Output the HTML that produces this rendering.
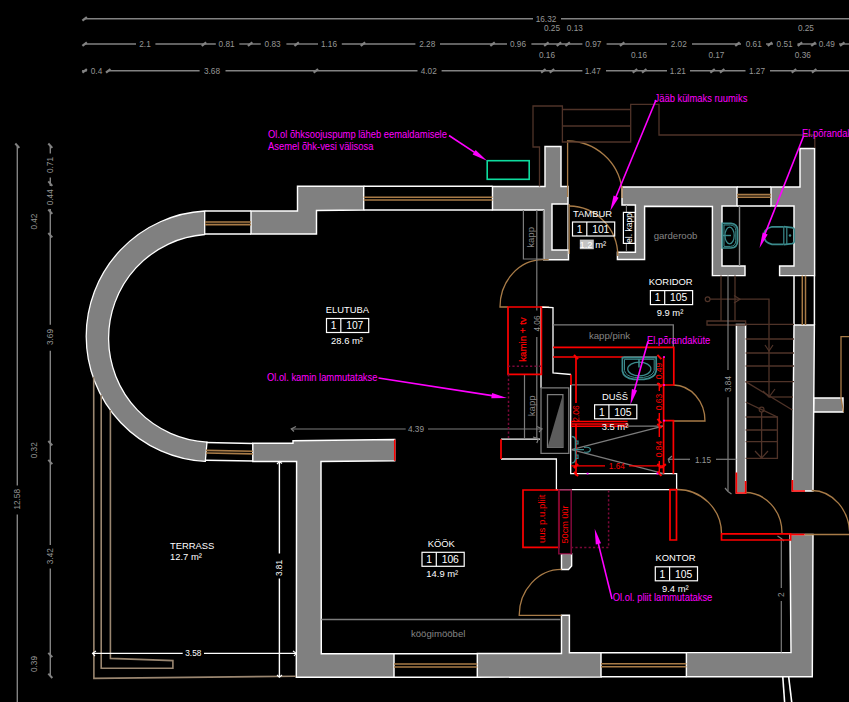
<!DOCTYPE html>
<html><head><meta charset="utf-8"><title>Plaan</title>
<style>
html,body{margin:0;padding:0;background:#000;overflow:hidden}
svg{display:block;font-family:"Liberation Sans",sans-serif}
</style></head><body>
<svg width="849" height="702" viewBox="0 0 849 702">
<rect width="849" height="702" fill="#000"/>
<line x1="84.7" y1="18.8" x2="533" y2="18.8" stroke="#828282" stroke-width="1.4" />
<line x1="561" y1="18.8" x2="849" y2="18.8" stroke="#828282" stroke-width="1.4" />
<path d="M82.4,20.7 L86.9,17.1" stroke="#828282" stroke-width="2.2" fill="none"/>
<text x="0" y="0" fill="#969696" font-size="8.7" text-anchor="middle" dominant-baseline="central" transform="translate(546 19.1) scale(0.95 1)" >16.32</text>
<line x1="84.7" y1="44" x2="136" y2="44" stroke="#828282" stroke-width="1.4" />
<line x1="155.4" y1="44" x2="215.8" y2="44" stroke="#828282" stroke-width="1.4" />
<line x1="239.3" y1="44" x2="260.8" y2="44" stroke="#828282" stroke-width="1.4" />
<line x1="286.4" y1="44" x2="318" y2="44" stroke="#828282" stroke-width="1.4" />
<line x1="341.8" y1="44" x2="415.4" y2="44" stroke="#828282" stroke-width="1.4" />
<line x1="440" y1="44" x2="507" y2="44" stroke="#828282" stroke-width="1.4" />
<line x1="531.4" y1="44" x2="582.4" y2="44" stroke="#828282" stroke-width="1.4" />
<line x1="606.6" y1="44" x2="667" y2="44" stroke="#828282" stroke-width="1.4" />
<line x1="692" y1="44" x2="741" y2="44" stroke="#828282" stroke-width="1.4" />
<line x1="766" y1="44" x2="773" y2="44" stroke="#828282" stroke-width="1.4" />
<line x1="797.5" y1="44" x2="816.5" y2="44" stroke="#828282" stroke-width="1.4" />
<line x1="839" y1="44" x2="849" y2="44" stroke="#828282" stroke-width="1.4" />
<path d="M82.4,45.9 L86.9,42.3" stroke="#828282" stroke-width="2.2" fill="none"/>
<path d="M201.7,45.9 L206.2,42.3" stroke="#828282" stroke-width="2.2" fill="none"/>
<path d="M247.89999999999998,45.9 L252.39999999999998,42.3" stroke="#828282" stroke-width="2.2" fill="none"/>
<path d="M294.4,45.9 L298.9,42.3" stroke="#828282" stroke-width="2.2" fill="none"/>
<path d="M360.7,45.9 L365.2,42.3" stroke="#828282" stroke-width="2.2" fill="none"/>
<path d="M490.3,45.9 L494.8,42.3" stroke="#828282" stroke-width="2.2" fill="none"/>
<path d="M544.1,45.9 L548.6,42.3" stroke="#828282" stroke-width="2.2" fill="none"/>
<path d="M556.7,45.9 L561.2,42.3" stroke="#828282" stroke-width="2.2" fill="none"/>
<path d="M565.4000000000001,45.9 L569.9000000000001,42.3" stroke="#828282" stroke-width="2.2" fill="none"/>
<path d="M619.9000000000001,45.9 L624.4000000000001,42.3" stroke="#828282" stroke-width="2.2" fill="none"/>
<path d="M735.2,45.9 L739.7,42.3" stroke="#828282" stroke-width="2.2" fill="none"/>
<path d="M767.7,45.9 L772.2,42.3" stroke="#828282" stroke-width="2.2" fill="none"/>
<path d="M797.7,45.9 L802.2,42.3" stroke="#828282" stroke-width="2.2" fill="none"/>
<path d="M811.2,45.9 L815.7,42.3" stroke="#828282" stroke-width="2.2" fill="none"/>
<path d="M840.0,45.9 L844.5,42.3" stroke="#828282" stroke-width="2.2" fill="none"/>
<text x="0" y="0" fill="#969696" font-size="8.7" text-anchor="middle" dominant-baseline="central" transform="translate(145 44.3) scale(0.95 1)" >2.1</text>
<text x="0" y="0" fill="#969696" font-size="8.7" text-anchor="middle" dominant-baseline="central" transform="translate(226.6 44.3) scale(0.95 1)" >0.81</text>
<text x="0" y="0" fill="#969696" font-size="8.7" text-anchor="middle" dominant-baseline="central" transform="translate(272.6 44.3) scale(0.95 1)" >0.83</text>
<text x="0" y="0" fill="#969696" font-size="8.7" text-anchor="middle" dominant-baseline="central" transform="translate(329 44.3) scale(0.95 1)" >1.16</text>
<text x="0" y="0" fill="#969696" font-size="8.7" text-anchor="middle" dominant-baseline="central" transform="translate(427.2 44.3) scale(0.95 1)" >2.28</text>
<text x="0" y="0" fill="#969696" font-size="8.7" text-anchor="middle" dominant-baseline="central" transform="translate(518 44.3) scale(0.95 1)" >0.96</text>
<text x="0" y="0" fill="#969696" font-size="8.7" text-anchor="middle" dominant-baseline="central" transform="translate(593.3 44.3) scale(0.95 1)" >0.97</text>
<text x="0" y="0" fill="#969696" font-size="8.7" text-anchor="middle" dominant-baseline="central" transform="translate(678.7 44.3) scale(0.95 1)" >2.02</text>
<text x="0" y="0" fill="#969696" font-size="8.7" text-anchor="middle" dominant-baseline="central" transform="translate(753.7 44.3) scale(0.95 1)" >0.61</text>
<text x="0" y="0" fill="#969696" font-size="8.7" text-anchor="middle" dominant-baseline="central" transform="translate(784.6 44.3) scale(0.95 1)" >0.51</text>
<text x="0" y="0" fill="#969696" font-size="8.7" text-anchor="middle" dominant-baseline="central" transform="translate(826.8 44.3) scale(0.95 1)" >0.49</text>
<text x="0" y="0" fill="#969696" font-size="8.7" text-anchor="middle" dominant-baseline="central" transform="translate(552 27.9) scale(0.95 1)" >0.25</text>
<text x="0" y="0" fill="#969696" font-size="8.7" text-anchor="middle" dominant-baseline="central" transform="translate(574.8 27.9) scale(0.95 1)" >0.13</text>
<text x="0" y="0" fill="#969696" font-size="8.7" text-anchor="middle" dominant-baseline="central" transform="translate(805.9 27.9) scale(0.95 1)" >0.25</text>
<text x="0" y="0" fill="#969696" font-size="8.7" text-anchor="middle" dominant-baseline="central" transform="translate(547 55.3) scale(0.95 1)" >0.16</text>
<text x="0" y="0" fill="#969696" font-size="8.7" text-anchor="middle" dominant-baseline="central" transform="translate(639 55.3) scale(0.95 1)" >0.16</text>
<text x="0" y="0" fill="#969696" font-size="8.7" text-anchor="middle" dominant-baseline="central" transform="translate(716.4 55.3) scale(0.95 1)" >0.17</text>
<text x="0" y="0" fill="#969696" font-size="8.7" text-anchor="middle" dominant-baseline="central" transform="translate(802.8 55.3) scale(0.95 1)" >0.36</text>
<line x1="82" y1="70.8" x2="87" y2="70.8" stroke="#828282" stroke-width="1.4" />
<line x1="108.3" y1="70.8" x2="199.6" y2="70.8" stroke="#828282" stroke-width="1.4" />
<line x1="225.5" y1="70.8" x2="417.5" y2="70.8" stroke="#828282" stroke-width="1.4" />
<line x1="441.6" y1="70.8" x2="582.4" y2="70.8" stroke="#828282" stroke-width="1.4" />
<line x1="606" y1="70.8" x2="667" y2="70.8" stroke="#828282" stroke-width="1.4" />
<line x1="690" y1="70.8" x2="745.5" y2="70.8" stroke="#828282" stroke-width="1.4" />
<line x1="770" y1="70.8" x2="849" y2="70.8" stroke="#828282" stroke-width="1.4" />
<path d="M82.4,72.7 L86.9,69.1" stroke="#828282" stroke-width="2.2" fill="none"/>
<path d="M106.0,72.7 L110.5,69.1" stroke="#828282" stroke-width="2.2" fill="none"/>
<path d="M313.59999999999997,72.7 L318.09999999999997,69.1" stroke="#828282" stroke-width="2.2" fill="none"/>
<path d="M541.1,72.7 L545.6,69.1" stroke="#828282" stroke-width="2.2" fill="none"/>
<path d="M549.7,72.7 L554.2,69.1" stroke="#828282" stroke-width="2.2" fill="none"/>
<path d="M632.7,72.7 L637.2,69.1" stroke="#828282" stroke-width="2.2" fill="none"/>
<path d="M642.0,72.7 L646.5,69.1" stroke="#828282" stroke-width="2.2" fill="none"/>
<path d="M710.3000000000001,72.7 L714.8000000000001,69.1" stroke="#828282" stroke-width="2.2" fill="none"/>
<path d="M719.9000000000001,72.7 L724.4000000000001,69.1" stroke="#828282" stroke-width="2.2" fill="none"/>
<path d="M791.7,72.7 L796.2,69.1" stroke="#828282" stroke-width="2.2" fill="none"/>
<path d="M811.9000000000001,72.7 L816.4000000000001,69.1" stroke="#828282" stroke-width="2.2" fill="none"/>
<text x="0" y="0" fill="#969696" font-size="8.7" text-anchor="middle" dominant-baseline="central" transform="translate(96.5 71.1) scale(0.95 1)" >0.4</text>
<text x="0" y="0" fill="#969696" font-size="8.7" text-anchor="middle" dominant-baseline="central" transform="translate(212 71.1) scale(0.95 1)" >3.68</text>
<text x="0" y="0" fill="#969696" font-size="8.7" text-anchor="middle" dominant-baseline="central" transform="translate(428.7 71.1) scale(0.95 1)" >4.02</text>
<text x="0" y="0" fill="#969696" font-size="8.7" text-anchor="middle" dominant-baseline="central" transform="translate(592.7 71.1) scale(0.95 1)" >1.47</text>
<text x="0" y="0" fill="#969696" font-size="8.7" text-anchor="middle" dominant-baseline="central" transform="translate(677.8 71.1) scale(0.95 1)" >1.21</text>
<text x="0" y="0" fill="#969696" font-size="8.7" text-anchor="middle" dominant-baseline="central" transform="translate(757 71.1) scale(0.95 1)" >1.27</text>
<line x1="17.3" y1="145.7" x2="17.3" y2="485.6" stroke="#828282" stroke-width="1.4" />
<line x1="17.3" y1="514.6" x2="17.3" y2="702" stroke="#828282" stroke-width="1.4" />
<path d="M15.3,143.5 L19.3,147.89999999999998" stroke="#828282" stroke-width="2.0" fill="none"/>
<text x="0" y="0" fill="#969696" font-size="8.7" text-anchor="middle" dominant-baseline="central" transform="translate(17.3 499.3) rotate(-90) scale(0.95 1)" >12.58</text>
<line x1="50.3" y1="145.7" x2="50.3" y2="153.5" stroke="#828282" stroke-width="1.4" />
<line x1="50.3" y1="177.5" x2="50.3" y2="186" stroke="#828282" stroke-width="1.4" />
<line x1="50.3" y1="209" x2="50.3" y2="324.8" stroke="#828282" stroke-width="1.4" />
<line x1="50.3" y1="350.8" x2="50.3" y2="545" stroke="#828282" stroke-width="1.4" />
<line x1="50.3" y1="568.6" x2="50.3" y2="675.8" stroke="#828282" stroke-width="1.4" />
<path d="M48.3,143.5 L52.3,147.89999999999998" stroke="#828282" stroke-width="2.0" fill="none"/>
<path d="M48.3,181.4 L52.3,185.79999999999998" stroke="#828282" stroke-width="2.0" fill="none"/>
<path d="M48.3,209.5 L52.3,213.89999999999998" stroke="#828282" stroke-width="2.0" fill="none"/>
<path d="M48.3,233.0 L52.3,237.39999999999998" stroke="#828282" stroke-width="2.0" fill="none"/>
<path d="M48.3,441.0 L52.3,445.4" stroke="#828282" stroke-width="2.0" fill="none"/>
<path d="M48.3,459.8 L52.3,464.2" stroke="#828282" stroke-width="2.0" fill="none"/>
<path d="M48.3,652.8 L52.3,657.2" stroke="#828282" stroke-width="2.0" fill="none"/>
<path d="M48.3,673.5999999999999 L52.3,678.0" stroke="#828282" stroke-width="2.0" fill="none"/>
<text x="0" y="0" fill="#969696" font-size="8.7" text-anchor="middle" dominant-baseline="central" transform="translate(50.3 165) rotate(-90) scale(0.95 1)" >0.71</text>
<text x="0" y="0" fill="#969696" font-size="8.7" text-anchor="middle" dominant-baseline="central" transform="translate(50.3 197.3) rotate(-90) scale(0.95 1)" >0.44</text>
<text x="0" y="0" fill="#969696" font-size="8.7" text-anchor="middle" dominant-baseline="central" transform="translate(50.3 337) rotate(-90) scale(0.95 1)" >3.69</text>
<text x="0" y="0" fill="#969696" font-size="8.7" text-anchor="middle" dominant-baseline="central" transform="translate(50.3 556.2) rotate(-90) scale(0.95 1)" >3.42</text>
<text x="0" y="0" fill="#969696" font-size="8.7" text-anchor="middle" dominant-baseline="central" transform="translate(34.0 221.6) rotate(-90) scale(0.95 1)" >0.42</text>
<text x="0" y="0" fill="#969696" font-size="8.7" text-anchor="middle" dominant-baseline="central" transform="translate(34.0 450.3) rotate(-90) scale(0.95 1)" >0.32</text>
<text x="0" y="0" fill="#969696" font-size="8.7" text-anchor="middle" dominant-baseline="central" transform="translate(34.0 664) rotate(-90) scale(0.95 1)" >0.39</text>
<path d="M204.7,210.99 A125.4,125.4 0 0 0 205.3,461.44 L207.0,442.05 A104.0,104.0 0 0 1 204.7,234.50 Z" fill="#808080" stroke="#ffffff" stroke-width="1.3"/>
<path d="M251,211 L297.5,211 L297.5,186.3 L363.7,186.3 L363.7,210 L316.5,210.5 L316.5,234 L251,234Z" fill="#808080" stroke="#ffffff" stroke-width="1.45" stroke-linejoin="miter" />
<path d="M492.5,186.5 L545,186.5 L545,146.5 L561,146.5 L561,186.5 L568,186.5 L568,204 L552,204 L552,250 L568.5,250 L568.5,259.7 L543.7,259.7 L543.7,210 L492.5,210Z" fill="#808080" stroke="#ffffff" stroke-width="1.45" stroke-linejoin="miter" />
<path d="M622,187 L737,187 L737,206 L722,206 L722,266 L745,266 L745,275.6 L712.4,275.6 L712.4,206.5 L644.6,206.3 L644.6,259.4 L617.4,259.4 L617.4,252.3 L635.4,252.3 L635.4,205 L622,205Z" fill="#808080" stroke="#ffffff" stroke-width="1.45" stroke-linejoin="miter" />
<path d="M771,187 L800,187 L800,148.5 L814.6,148.5 L814.6,275.6 L779.6,275.6 L779.6,266 L794,266 L794,206 L771,206Z" fill="#808080" stroke="#ffffff" stroke-width="1.45" stroke-linejoin="miter" />
<path d="M794,325 L814.4,325 L813,491 L792.4,491Z" fill="#808080" stroke="#ffffff" stroke-width="1.45" stroke-linejoin="miter" />
<path d="M814,398 L843,398 L843,412 L813.8,412Z" fill="#808080" stroke="#ffffff" stroke-width="1.45" stroke-linejoin="miter" />
<path d="M736.4,324.4 L745.6,324.4 L745.6,493 L736.4,493Z" fill="#808080" stroke="#ffffff" stroke-width="1.45" stroke-linejoin="miter" />
<path d="M790,534.5 L813,534.5 L812.3,676.8 L686.4,676.8 L686.4,652.6 L791,652.6Z" fill="#808080" stroke="#ffffff" stroke-width="1.45" stroke-linejoin="miter" />
<path d="M477.3,653.5 L561.5,653.5 L561.5,615.3 L569.4,615.3 L569.4,652.8 L601,652.8 L601,677 L477.3,677.2Z" fill="#808080" stroke="#ffffff" stroke-width="1.45" stroke-linejoin="miter" />
<path d="M252.8,443.3 L293,443.3 L293,440.7 L394.7,439.6 L394.7,460.8 L321,461.5 L321.3,653.7 L394,653.7 L394,677.3 L296.3,677.3 L296.6,461.5 L252.8,461.5Z" fill="#808080" stroke="#ffffff" stroke-width="1.45" stroke-linejoin="miter" />
<path d="M561.5,553.8 L571.6,553.8 L571.6,566 L568.5,569.4 L561.5,569.4Z" fill="#808080" stroke="#ffffff" stroke-width="1.45" stroke-linejoin="miter" />
<line x1="205" y1="211" x2="251" y2="211" stroke="#ffffff" stroke-width="1.5" />
<line x1="205" y1="234" x2="251" y2="234" stroke="#ffffff" stroke-width="1.5" />
<line x1="205" y1="222" x2="251" y2="222" stroke="#a87b47" stroke-width="1.6" />
<line x1="205" y1="224.6" x2="251" y2="224.6" stroke="#a87b47" stroke-width="1.6" />
<line x1="363.7" y1="186.3" x2="492.5" y2="186.3" stroke="#ffffff" stroke-width="1.5" />
<line x1="363.7" y1="210" x2="492.5" y2="210" stroke="#ffffff" stroke-width="1.5" />
<line x1="363.7" y1="197.3" x2="492.5" y2="197.3" stroke="#a87b47" stroke-width="1.6" />
<line x1="363.7" y1="200" x2="492.5" y2="200" stroke="#a87b47" stroke-width="1.6" />
<line x1="206" y1="442.5" x2="252.8" y2="443.4" stroke="#ffffff" stroke-width="1.5" />
<line x1="206" y1="460.2" x2="252.8" y2="461.09999999999997" stroke="#ffffff" stroke-width="1.5" />
<line x1="206" y1="450.4" x2="252.8" y2="451.29999999999995" stroke="#a87b47" stroke-width="1.6" />
<line x1="206" y1="453" x2="252.8" y2="453.9" stroke="#a87b47" stroke-width="1.6" />
<line x1="394" y1="653.7" x2="477.3" y2="653.7" stroke="#ffffff" stroke-width="1.5" />
<line x1="394" y1="677.3" x2="477.3" y2="677.3" stroke="#ffffff" stroke-width="1.5" />
<line x1="394" y1="664" x2="477.3" y2="664" stroke="#a87b47" stroke-width="1.6" />
<line x1="394" y1="667" x2="477.3" y2="667" stroke="#a87b47" stroke-width="1.6" />
<line x1="601" y1="652.8" x2="686.4" y2="652.8" stroke="#ffffff" stroke-width="1.5" />
<line x1="601" y1="676.8" x2="686.4" y2="676.8" stroke="#ffffff" stroke-width="1.5" />
<line x1="601" y1="663.8" x2="686.4" y2="663.8" stroke="#a87b47" stroke-width="1.6" />
<line x1="601" y1="666.8" x2="686.4" y2="666.8" stroke="#a87b47" stroke-width="1.6" />
<line x1="737" y1="187" x2="771" y2="187" stroke="#ffffff" stroke-width="1.5" />
<line x1="737" y1="206" x2="771" y2="206" stroke="#ffffff" stroke-width="1.5" />
<line x1="737" y1="194.6" x2="771" y2="194.6" stroke="#a87b47" stroke-width="1.6" />
<line x1="737" y1="197.2" x2="771" y2="197.2" stroke="#a87b47" stroke-width="1.6" />
<line x1="794" y1="275.6" x2="794" y2="325" stroke="#ffffff" stroke-width="1.5" />
<line x1="814.4" y1="275.6" x2="814.4" y2="325" stroke="#ffffff" stroke-width="1.5" />
<line x1="802.3" y1="275.6" x2="802.3" y2="325" stroke="#a87b47" stroke-width="1.5" />
<line x1="805.5" y1="275.6" x2="805.5" y2="325" stroke="#a87b47" stroke-width="1.5" />
<path d="M567.6,197 L567.6,141 A55,55 0 0 1 622,189" fill="none" stroke="#a87b47" stroke-width="1.3"/>
<path d="M622,186 L622,198" fill="none" stroke="#a87b47" stroke-width="1.3"/>
<line x1="567.9" y1="204" x2="567.9" y2="250" stroke="#ffffff" stroke-width="1.1" />
<path d="M569.2,204 L569.2,254" fill="none" stroke="#a87b47" stroke-width="1.2"/>
<path d="M569,206 A49,50 0 0 1 617.8,256 L617.8,251" fill="none" stroke="#a87b47" stroke-width="1.3"/>
<path d="M548.7,259.7 L542.8,259.7 A43,47.3 0 0 0 500,307 L508,307" fill="none" stroke="#a87b47" stroke-width="1.3"/>
<path d="M541.8,307 L549,307" fill="none" stroke="#a87b47" stroke-width="1.3"/>
<path d="M673.5,385 A32,36 0 0 1 705,421 L673,421" fill="none" stroke="#a87b47" stroke-width="1.3"/>
<path d="M677,489.5 A44.5,44 0 0 1 721.5,533.5" fill="none" stroke="#a87b47" stroke-width="1.3"/>
<path d="M745,492.5 A37,40.5 0 0 1 782,533" fill="none" stroke="#a87b47" stroke-width="1.3"/>
<path d="M811.7,490.5 A38,44 0 0 1 849.7,534.5" fill="none" stroke="#a87b47" stroke-width="1.3"/>
<path d="M805,534.5 L849,534.5" fill="none" stroke="#a87b47" stroke-width="1.3"/>
<path d="M561.5,569.4 A42.3,46 0 0 0 519.2,615.3 L561.5,615.3" fill="none" stroke="#a87b47" stroke-width="1.3"/>
<path d="M849,336.6 L841,336.6 L841,398 L843.5,412" fill="none" stroke="#a87b47" stroke-width="1.3"/>
<path d="M93.7,376.7 L93.9,678.4 L296,676.2" fill="none" stroke="#9a8670" stroke-width="1.6" />
<path d="M101.2,394.7 L101.2,668.3 L172.9,668.3 L172.9,660.6 L110.4,658.4 L110.4,410" fill="none" stroke="#9a8670" stroke-width="1.6" />
<path d="M539.5,186.5 L539.5,147 L533,147 L533,106 L562.4,106 L562.4,142 L630.7,142 L630.7,104.4 L659,104.4 L659,135 L814.8,135 L814.8,148" fill="none" stroke="#4f3328" stroke-width="1.3" />
<line x1="562.4" y1="109.5" x2="630.7" y2="109.5" stroke="#4f3328" stroke-width="1.3" />
<line x1="562.4" y1="126" x2="630.7" y2="126" stroke="#4f3328" stroke-width="1.3" />
<line x1="721" y1="275.6" x2="721" y2="321" stroke="#4f3328" stroke-width="1.3" />
<line x1="735" y1="275.6" x2="735" y2="321" stroke="#4f3328" stroke-width="1.3" />
<path d="M707,321 L745.6,321 L745.6,325 L707,325Z" fill="none" stroke="#4f3328" stroke-width="1.3" />
<line x1="745.6" y1="324.4" x2="794" y2="324.4" stroke="#4f3328" stroke-width="1.3" />
<circle cx="707.6" cy="299.2" r="2.4" fill="none" stroke="#4f3328" stroke-width="1.2"/>
<path d="M710,299.2 L769,299.2 L769,397" fill="none" stroke="#4f3328" stroke-width="1.3" />
<path d="M734,295.5 L740,299.2 L734,303" fill="none" stroke="#4f3328" stroke-width="1.2" />
<path d="M765,345 L769,351 L773,345" fill="none" stroke="#4f3328" stroke-width="1.2" />
<line x1="745.6" y1="339" x2="794" y2="339" stroke="#4f3328" stroke-width="1.3" />
<line x1="745.6" y1="353" x2="794" y2="353" stroke="#4f3328" stroke-width="1.3" />
<line x1="745.6" y1="366" x2="794" y2="366" stroke="#4f3328" stroke-width="1.3" />
<line x1="745.6" y1="381.6" x2="794" y2="381.6" stroke="#4f3328" stroke-width="1.3" />
<line x1="769" y1="397" x2="793" y2="397" stroke="#4f3328" stroke-width="1.3" />
<path d="M763,391 L769,397 L775,389" fill="none" stroke="#4f3328" stroke-width="1.2" />
<line x1="745.6" y1="381.6" x2="792.4" y2="410" stroke="#4f3328" stroke-width="1.3" />
<line x1="745.6" y1="402" x2="777.4" y2="417" stroke="#4f3328" stroke-width="1.3" />
<path d="M745.6,417 L777.4,417 L777.4,458.4 L745.6,458.4" fill="none" stroke="#4f3328" stroke-width="1.3" />
<line x1="745.6" y1="430" x2="777.4" y2="430" stroke="#4f3328" stroke-width="1.3" />
<line x1="745.6" y1="441.6" x2="777.4" y2="441.6" stroke="#4f3328" stroke-width="1.3" />
<circle cx="761.6" cy="409.6" r="2.4" fill="none" stroke="#4f3328" stroke-width="1.2"/>
<line x1="761.6" y1="412" x2="761.6" y2="458" stroke="#4f3328" stroke-width="1.3" />
<path d="M755,451 L761.6,458 L768,451" fill="none" stroke="#4f3328" stroke-width="1.2" />
<path d="M541,388 L541,307 L553,307.5 L553,373 L571,374.5" fill="none" stroke="#ffffff" stroke-width="1.3" />
<path d="M570.7,384.7 L570.7,473.7 L676.6,473.7 L676.6,489.7 L556.4,489.7 L556.4,459 L501,459" fill="none" stroke="#ffffff" stroke-width="1.3" />
<line x1="501" y1="439.2" x2="540" y2="439.2" stroke="#ffffff" stroke-width="1.3" />
<path d="M523.4,210 L523.4,259 L543.4,259" fill="none" stroke="#7c7c7c" stroke-width="1.2" />
<line x1="543.4" y1="210" x2="543.4" y2="259" stroke="#7c7c7c" stroke-width="1.0" />
<line x1="536.8" y1="210" x2="536.8" y2="310.4" stroke="#7c7c7c" stroke-width="1.2" />
<line x1="536.8" y1="337" x2="536.8" y2="438.7" stroke="#7c7c7c" stroke-width="1.2" />
<text x="0" y="0" fill="#969696" font-size="8.7" text-anchor="middle" dominant-baseline="central" transform="translate(536.6 323.5) rotate(-90) scale(0.95 1)" >4.06</text>
<path d="M553,324.8 L673.3,324.8 L673.3,347.5" fill="none" stroke="#7c7c7c" stroke-width="1.3" />
<line x1="524.5" y1="374.3" x2="524.5" y2="438.7" stroke="#7c7c7c" stroke-width="1.2" />
<line x1="291.3" y1="429" x2="405.7" y2="429" stroke="#7c7c7c" stroke-width="1.2" />
<line x1="428" y1="429" x2="542" y2="429" stroke="#7c7c7c" stroke-width="1.2" />
<text x="0" y="0" fill="#969696" font-size="8.7" text-anchor="middle" dominant-baseline="central" transform="translate(416 429.3) scale(0.95 1)" >4.39</text>
<path d="M296,426.5 L291.3,429 L294,431.5" fill="none" stroke="#7c7c7c" stroke-width="1.2" />
<path d="M537,426.5 L542,429 L539,432" fill="none" stroke="#7c7c7c" stroke-width="1.2" />
<path d="M533,437 L538.5,438.7 L536.8,443" fill="none" stroke="#7c7c7c" stroke-width="1.2" />
<path d="M541,387.8 L568.8,387.8 L568.8,453.3 L541,453.3Z" fill="none" stroke="#7c7c7c" stroke-width="1.3" />
<path d="M547.5,394.6 L562.9,394.6 L562.9,447.4 L547.5,447.4Z" fill="none" stroke="#7c7c7c" stroke-width="1.3" />
<path d="M562.9,394.6 L562.9,447.4 L547.5,447.4Z" fill="#5c5c5c" stroke="none" stroke-width="0" />
<line x1="571" y1="384.8" x2="659" y2="384.8" stroke="#7c7c7c" stroke-width="1.3" />
<line x1="623.2" y1="357" x2="657" y2="357" stroke="#7c7c7c" stroke-width="1.3" />
<line x1="628" y1="426.2" x2="663.6" y2="426.2" stroke="#7c7c7c" stroke-width="1.2" />
<line x1="571.5" y1="449.7" x2="663" y2="426.2" stroke="#7c7c7c" stroke-width="1.3" />
<line x1="571.5" y1="449.7" x2="663.6" y2="473.7" stroke="#7c7c7c" stroke-width="1.3" />
<line x1="668.3" y1="459.3" x2="690" y2="459.3" stroke="#7c7c7c" stroke-width="1.2" />
<line x1="716" y1="459.3" x2="736.4" y2="459.3" stroke="#7c7c7c" stroke-width="1.2" />
<path d="M672,456 L668.3,459.3 L669.5,463" fill="none" stroke="#7c7c7c" stroke-width="1.2" />
<text x="0" y="0" fill="#969696" font-size="8.7" text-anchor="middle" dominant-baseline="central" transform="translate(703 459.6) scale(0.95 1)" >1.15</text>
<line x1="728" y1="275.6" x2="728" y2="370" stroke="#7c7c7c" stroke-width="1.2" />
<line x1="728" y1="397.3" x2="728" y2="491" stroke="#7c7c7c" stroke-width="1.2" />
<text x="0" y="0" fill="#969696" font-size="8.7" text-anchor="middle" dominant-baseline="central" transform="translate(727.7 384) rotate(-90) scale(0.95 1)" >3.84</text>
<path d="M725,488 L728,491.5 L731.5,494" fill="none" stroke="#7c7c7c" stroke-width="1.2" />
<line x1="739.5" y1="206" x2="739.5" y2="266" stroke="#8a8a8a" stroke-width="1.4" />
<line x1="781.3" y1="538.5" x2="781.3" y2="588" stroke="#7c7c7c" stroke-width="1.2" />
<line x1="781.3" y1="601" x2="781.3" y2="652.5" stroke="#7c7c7c" stroke-width="1.2" />
<text x="0" y="0" fill="#969696" font-size="8.7" text-anchor="middle" dominant-baseline="central" transform="translate(781.3 594.8) rotate(-90) scale(0.95 1)" >2</text>
<path d="M777.5,536 L781.3,538.5 L784,541" fill="none" stroke="#7c7c7c" stroke-width="1.2" />
<line x1="321.3" y1="619.5" x2="560.3" y2="619.5" stroke="#7c7c7c" stroke-width="1.5" />
<line x1="279.4" y1="461.5" x2="279.4" y2="553.5" stroke="#ffffff" stroke-width="1.4" />
<line x1="279.4" y1="578.5" x2="279.4" y2="677" stroke="#ffffff" stroke-width="1.4" />
<text x="0" y="0" fill="#ffffff" font-size="8.7" text-anchor="middle" dominant-baseline="central" transform="translate(279.4 568) rotate(-90) scale(0.95 1)" >3.81</text>
<path d="M277,464 L279.4,461.5 L282,463.5" fill="none" stroke="#ffffff" stroke-width="1.1" />
<path d="M277,675 L279.4,677.3 L282,675" fill="none" stroke="#ffffff" stroke-width="1.1" />
<line x1="92.5" y1="653.4" x2="182.7" y2="653.4" stroke="#ffffff" stroke-width="1.4" />
<line x1="204" y1="653.4" x2="296" y2="653.4" stroke="#ffffff" stroke-width="1.4" />
<text x="0" y="0" fill="#ffffff" font-size="8.7" text-anchor="middle" dominant-baseline="central" transform="translate(193.3 653.3) scale(0.95 1)" >3.58</text>
<path d="M96,651 L92.5,653.4 L95,656" fill="none" stroke="#ffffff" stroke-width="1.1" />
<path d="M293,651 L296.3,653.4 L294,656" fill="none" stroke="#ffffff" stroke-width="1.1" />
<path d="M508,307 L541.4,307 L541.4,374.3 L508,374.3Z" fill="none" stroke="#ff0000" stroke-width="1.7" />
<text x="522.3" y="339.5" fill="#ff0000" font-size="9.7" text-anchor="middle" dominant-baseline="central" transform="rotate(-90 522.3 339.5)" stroke="#ff0000" stroke-width="0.25">kamin + tv</text>
<path d="M553,347.4 L673.8,347.4 L673.8,385 L659,385" fill="none" stroke="#ff0000" stroke-width="1.7" />
<line x1="553" y1="357" x2="623.2" y2="357" stroke="#ff0000" stroke-width="1.7" />
<line x1="663.6" y1="357" x2="663.6" y2="473.7" stroke="#ff0000" stroke-width="1.7" />
<path d="M663.6,420.7 L673.4,420.7 L673.4,473.7" fill="none" stroke="#ff0000" stroke-width="1.7" />
<line x1="576" y1="357" x2="576" y2="403" stroke="#ff0000" stroke-width="1.7" />
<line x1="576" y1="424" x2="576" y2="475.6" stroke="#ff0000" stroke-width="1.7" />
<line x1="571" y1="374.5" x2="571" y2="385" stroke="#ff0000" stroke-width="1.7" />
<line x1="571" y1="421.4" x2="627.6" y2="421.4" stroke="#ff0000" stroke-width="1.5" />
<line x1="571" y1="423.9" x2="627.6" y2="423.9" stroke="#ff0000" stroke-width="1.5" />
<line x1="571" y1="426.3" x2="627.6" y2="426.3" stroke="#ff0000" stroke-width="1.5" />
<line x1="659.3" y1="383" x2="659.3" y2="391" stroke="#ff0000" stroke-width="1.4" />
<line x1="659.3" y1="413" x2="659.3" y2="437" stroke="#ff0000" stroke-width="1.4" />
<line x1="659.3" y1="461" x2="659.3" y2="474" stroke="#ff0000" stroke-width="1.4" />
<path d="M657.4,354.8 L661.4,359.2" stroke="#ff0000" stroke-width="2.0" fill="none"/>
<path d="M657.4,382.8 L661.4,387.2" stroke="#ff0000" stroke-width="2.0" fill="none"/>
<path d="M657.4,418.8 L661.4,423.2" stroke="#ff0000" stroke-width="2.0" fill="none"/>
<path d="M657.4,423.8 L661.4,428.2" stroke="#ff0000" stroke-width="2.0" fill="none"/>
<path d="M657.4,463.8 L661.4,468.2" stroke="#ff0000" stroke-width="2.0" fill="none"/>
<path d="M657.4,471.5 L661.4,475.9" stroke="#ff0000" stroke-width="2.0" fill="none"/>
<text x="659.2" y="371" fill="#ff0000" font-size="8.5" text-anchor="middle" dominant-baseline="central" transform="rotate(-90 659.2 371)" >0.49</text>
<text x="659.2" y="402" fill="#ff0000" font-size="8.5" text-anchor="middle" dominant-baseline="central" transform="rotate(-90 659.2 402)" >0.63</text>
<text x="659.2" y="449" fill="#ff0000" font-size="8.5" text-anchor="middle" dominant-baseline="central" transform="rotate(-90 659.2 449)" >0.84</text>
<text x="576" y="413.5" fill="#ff0000" font-size="8.5" text-anchor="middle" dominant-baseline="central" transform="rotate(-90 576 413.5)" >2.06</text>
<line x1="571" y1="465.9" x2="605" y2="465.9" stroke="#ff0000" stroke-width="1.4" />
<line x1="629" y1="465.9" x2="663.6" y2="465.9" stroke="#ff0000" stroke-width="1.4" />
<text x="616.8" y="466.2" fill="#ff0000" font-size="8.2" text-anchor="middle" dominant-baseline="central" >1.64</text>
<path d="M573.7,467.79999999999995 L578.2,464.2" stroke="#ff0000" stroke-width="2.2" fill="none"/>
<path d="M661.3000000000001,467.79999999999995 L665.8000000000001,464.2" stroke="#ff0000" stroke-width="2.2" fill="none"/>
<path d="M574.0,354.8 L578.0,359.2" stroke="#ff0000" stroke-width="2.0" fill="none"/>
<path d="M574.0,471.8 L578.0,476.2" stroke="#ff0000" stroke-width="2.0" fill="none"/>
<rect x="663.1" y="356.1" width="1.8" height="1.8" fill="#ff00ff"/>
<rect x="663.1" y="384.1" width="1.8" height="1.8" fill="#ff00ff"/>
<rect x="663.1" y="419.70000000000005" width="1.8" height="1.8" fill="#ff00ff"/>
<rect x="656.5" y="472.70000000000005" width="1.8" height="1.8" fill="#ff00ff"/>
<rect x="586.7" y="472.70000000000005" width="1.8" height="1.8" fill="#ff00ff"/>
<path d="M736.4,472.4 L736.4,493 L745.6,493 L745.6,481" fill="none" stroke="#ff0000" stroke-width="1.7" />
<path d="M792.4,480 L792.4,491 L805,491" fill="none" stroke="#ff0000" stroke-width="1.7" />
<path d="M670,489.7 L676.5,489.7 L676.5,540 L670,540Z" fill="none" stroke="#ff0000" stroke-width="1.7" />
<path d="M721.5,533.8 L790.6,533.8 L790.6,540 L721.5,540Z" fill="none" stroke="#ff0000" stroke-width="1.7" />
<line x1="790" y1="534.5" x2="804.7" y2="534.5" stroke="#ff0000" stroke-width="1.7" />
<line x1="394.7" y1="439.6" x2="394.7" y2="460.8" stroke="#ff0000" stroke-width="1.5" />
<line x1="501" y1="439.2" x2="501" y2="459" stroke="#ff0000" stroke-width="1.7" />
<path d="M523,490 L558.8,490 L558.8,547.4 L523,547.4Z" fill="none" stroke="#ff0000" stroke-width="1.7" />
<text x="541.8" y="518.8" fill="#ff0000" font-size="9.6" text-anchor="middle" dominant-baseline="central" transform="rotate(-90 541.8 518.8)" >uus p.u.pliit</text>
<line x1="508" y1="366.3" x2="541" y2="366.3" stroke="#7a0838" stroke-width="1.5" stroke-dasharray="2.2 2.2"/>
<line x1="508.5" y1="374.3" x2="508.5" y2="438.7" stroke="#7a0838" stroke-width="1.5" stroke-dasharray="2.2 2.2"/>
<path d="M558.8,490 L571.2,490 L571.2,553.8 L558.8,553.8Z" fill="none" stroke="#7a0838" stroke-width="1.6" />
<text x="564.6" y="524.5" fill="#ff0000" font-size="9.1" text-anchor="middle" dominant-baseline="central" transform="rotate(-90 564.6 524.5)" >50cm üür</text>
<path d="M571,547.4 L608.6,547.4 L608.6,490" fill="none" stroke="#7a0838" stroke-width="1.5" stroke-dasharray="2.2 2.2"/>
<rect x="487.2" y="160.7" width="42" height="18.6" fill="none" stroke="#0edc9e" stroke-width="1.6"/>
<path d="M722.3,223.4 L731,223.4 Q737.5,224 737.5,230 L737.5,241 Q737.5,247.6 731,248 L722.3,248 Z" fill="none" stroke="#3b8a8c" stroke-width="1.7"/>
<path d="M724,225 L730.5,225 Q735.8,225.5 735.8,230.5 L735.8,240.5 Q735.8,246 730.5,246.4 L724,246.4 Z" fill="none" stroke="#3b8a8c" stroke-width="1.0"/>
<ellipse cx="729.6" cy="235.5" rx="4.6" ry="8.3" fill="none" stroke="#3b8a8c" stroke-width="1.2"/>
<path d="M722.5,235.5 L731,235.5" fill="none" stroke="#3b8a8c" stroke-width="1.4"/>
<path d="M783.6,226.8 L772,226.8 Q763.8,229 763.8,235.6 Q763.8,242.5 772,244.4 L783.6,244.4" fill="none" stroke="#3b8a8c" stroke-width="1.7"/>
<path d="M783.8,226.6 L783.8,244.6 M786.8,226.6 L786.8,244.6" fill="none" stroke="#3b8a8c" stroke-width="1.2"/>
<path d="M783.8,226.6 L792,227.6 Q794.3,228 794.3,230 L794.3,241 Q794.3,243.2 792,243.6 L783.8,244.6" fill="none" stroke="#3b8a8c" stroke-width="1.6"/>
<circle cx="790" cy="235.5" r="1.2" fill="#3b8a8c"/>
<path d="M622.4,357.6 L656.2,357.6 L656.2,371 Q655,378 644,379.3 L634,379.3 Q623.5,378 622.4,371 Z" fill="none" stroke="#3b8a8c" stroke-width="1.7"/>
<path d="M624.5,359.3 L654.2,359.3 L654.2,370.5 Q653,376 643.5,377.4 L634.5,377.4 Q625.5,376 624.5,370.5 Z" fill="none" stroke="#3b8a8c" stroke-width="1.0"/>
<ellipse cx="639.3" cy="369" rx="11.6" ry="6.9" fill="none" stroke="#3b8a8c" stroke-width="1.2"/>
<path d="M639,359 L639,367.5" fill="none" stroke="#3b8a8c" stroke-width="1.6"/>
<path d="M571.5,436.5 Q575,436.5 575.5,440 L575.5,459 Q575,463 571.5,463" fill="none" stroke="#3b8a8c" stroke-width="1.5"/>
<path d="M575.5,441 L578,441 L578,444 L575.5,444 M575.5,455 L578,455 L578,458.5 L575.5,458.5" fill="none" stroke="#3b8a8c" stroke-width="1.2"/>
<path d="M574,449.7 L584,449.7 M584,447.5 Q590,446.5 590.5,449.7 Q590,453 584,452" fill="none" stroke="#3b8a8c" stroke-width="1.2"/>
<text x="0" y="0" fill="#ff00ff" font-size="10.6" text-anchor="start" transform="translate(268 137.85) scale(0.887 1)" >Ol.ol õhksoojuspump läheb eemaldamisele</text>
<text x="0" y="0" fill="#ff00ff" font-size="10.6" text-anchor="start" transform="translate(268 149.7) scale(0.887 1)" >Asemel õhk-vesi välisosa</text>
<line x1="449" y1="135.5" x2="475.7" y2="153.2" stroke="#ff00ff" stroke-width="1.6"/>
<path d="M487,160.7 L472.6,154.4 L475.6,149.9Z" fill="#ff00ff"/>
<text x="0" y="0" fill="#ff00ff" font-size="10.6" text-anchor="start" transform="translate(654.5 101.7) scale(0.887 1)" >Jääb külmaks ruumiks</text>
<line x1="656" y1="100" x2="615.3" y2="198.5" stroke="#ff00ff" stroke-width="1.6"/>
<path d="M610.2,211 L613.6,195.6 L618.6,197.7Z" fill="#ff00ff"/>
<text x="0" y="0" fill="#ff00ff" font-size="10.6" text-anchor="start" transform="translate(802 136.9) scale(0.887 1)" >El.põrandaküte</text>
<line x1="803.7" y1="135.7" x2="764.4" y2="235.4" stroke="#ff00ff" stroke-width="1.6"/>
<path d="M759.5,248 L762.7,232.6 L767.7,234.6Z" fill="#ff00ff"/>
<text x="0" y="0" fill="#ff00ff" font-size="10.6" text-anchor="start" transform="translate(647.1 343.8) scale(0.887 1)" >El.põrandaküte</text>
<line x1="648" y1="341.2" x2="634.0" y2="391.7" stroke="#ff00ff" stroke-width="1.6"/>
<path d="M630.4,404.7 L631.9,389.0 L637.1,390.5Z" fill="#ff00ff"/>
<text x="0" y="0" fill="#ff00ff" font-size="10.6" text-anchor="start" transform="translate(266.9 380.8) scale(0.887 1)" >Ol.ol. kamin lammutatakse</text>
<line x1="378.5" y1="378" x2="493.7" y2="395.9" stroke="#ff00ff" stroke-width="1.6"/>
<path d="M507,398 L491.3,398.3 L492.1,392.9Z" fill="#ff00ff"/>
<text x="0" y="0" fill="#ff00ff" font-size="10.6" text-anchor="start" transform="translate(612.7 600.5) scale(0.887 1)" >Ol.ol. pliit lammutatakse</text>
<line x1="612" y1="599" x2="597.9" y2="541.9" stroke="#ff00ff" stroke-width="1.6"/>
<path d="M594.7,528.8 L601.0,543.2 L595.8,544.5Z" fill="#ff00ff"/>
<text x="0" y="0" fill="#ffffff" font-size="9.9" text-anchor="middle" transform="translate(347.3 313.0) scale(0.95 1)" >ELUTUBA</text>
<rect x="326.5" y="318.5" width="42.2" height="14" fill="none" stroke="#ffffff" stroke-width="1.2"/>
<line x1="340.8" y1="318.5" x2="340.8" y2="332.5" stroke="#ffffff" stroke-width="1.2" />
<text x="333.65" y="325.7" fill="#ffffff" font-size="10.3" text-anchor="middle" dominant-baseline="central" >1</text>
<text x="354.75" y="325.7" fill="#ffffff" font-size="10.3" text-anchor="middle" dominant-baseline="central" >107</text>
<text x="0" y="0" fill="#ffffff" font-size="9.7" text-anchor="middle" transform="translate(347 343.8) scale(0.97 1)" >28.6 m²</text>
<text x="0" y="0" fill="#ffffff" font-size="9.9" text-anchor="middle" transform="translate(441.3 547.3) scale(0.95 1)" >KÖÖK</text>
<rect x="422" y="552.3" width="42.2" height="14" fill="none" stroke="#ffffff" stroke-width="1.2"/>
<line x1="436.3" y1="552.3" x2="436.3" y2="566.3" stroke="#ffffff" stroke-width="1.2" />
<text x="429.15" y="559.5" fill="#ffffff" font-size="10.3" text-anchor="middle" dominant-baseline="central" >1</text>
<text x="450.25" y="559.5" fill="#ffffff" font-size="10.3" text-anchor="middle" dominant-baseline="central" >106</text>
<text x="0" y="0" fill="#ffffff" font-size="9.7" text-anchor="middle" transform="translate(442.3 577.1) scale(0.97 1)" >14.9 m²</text>
<text x="0" y="0" fill="#ffffff" font-size="9.9" text-anchor="middle" transform="translate(675.5 561.0) scale(0.95 1)" >KONTOR</text>
<rect x="655.3" y="566.8" width="42.2" height="14" fill="none" stroke="#ffffff" stroke-width="1.2"/>
<line x1="669.5999999999999" y1="566.8" x2="669.5999999999999" y2="580.8" stroke="#ffffff" stroke-width="1.2" />
<text x="662.4499999999999" y="574.0" fill="#ffffff" font-size="10.3" text-anchor="middle" dominant-baseline="central" >1</text>
<text x="683.55" y="574.0" fill="#ffffff" font-size="10.3" text-anchor="middle" dominant-baseline="central" >105</text>
<text x="0" y="0" fill="#ffffff" font-size="9.7" text-anchor="middle" transform="translate(675.3 592.1) scale(0.97 1)" >9.4 m²</text>
<text x="0" y="0" fill="#ffffff" font-size="9.9" text-anchor="middle" transform="translate(670.7 285.0) scale(0.95 1)" >KORIDOR</text>
<rect x="650.4" y="290.6" width="42.2" height="14" fill="none" stroke="#ffffff" stroke-width="1.2"/>
<line x1="664.6999999999999" y1="290.6" x2="664.6999999999999" y2="304.6" stroke="#ffffff" stroke-width="1.2" />
<text x="657.55" y="297.8" fill="#ffffff" font-size="10.3" text-anchor="middle" dominant-baseline="central" >1</text>
<text x="678.65" y="297.8" fill="#ffffff" font-size="10.3" text-anchor="middle" dominant-baseline="central" >105</text>
<text x="0" y="0" fill="#ffffff" font-size="9.7" text-anchor="middle" transform="translate(670 316.1) scale(0.97 1)" >9.9 m²</text>
<rect x="579.8" y="239.6" width="14" height="9.6" fill="#c4c4c4"/>
<text x="0" y="0" fill="#ffffff" font-size="9.9" text-anchor="middle" transform="translate(592.5 217.0) scale(0.95 1)" >TAMBUR</text>
<rect x="572.5" y="222" width="42.2" height="14" fill="none" stroke="#ffffff" stroke-width="1.2"/>
<line x1="586.8" y1="222" x2="586.8" y2="236" stroke="#ffffff" stroke-width="1.2" />
<text x="579.65" y="229.2" fill="#ffffff" font-size="10.3" text-anchor="middle" dominant-baseline="central" >1</text>
<text x="600.75" y="229.2" fill="#ffffff" font-size="10.3" text-anchor="middle" dominant-baseline="central" >101</text>
<text x="0" y="0" fill="#ffffff" font-size="9.7" text-anchor="middle" transform="translate(592.8 247.5) scale(0.97 1)" >1.2 m²</text>
<text x="0" y="0" fill="#ffffff" font-size="9.9" text-anchor="middle" transform="translate(615 400.1) scale(0.95 1)" >DUŠŠ</text>
<rect x="594.6" y="404.8" width="42.2" height="14" fill="none" stroke="#ffffff" stroke-width="1.2"/>
<line x1="608.9" y1="404.8" x2="608.9" y2="418.8" stroke="#ffffff" stroke-width="1.2" />
<text x="601.75" y="412.0" fill="#ffffff" font-size="10.3" text-anchor="middle" dominant-baseline="central" >1</text>
<text x="622.85" y="412.0" fill="#ffffff" font-size="10.3" text-anchor="middle" dominant-baseline="central" >105</text>
<text x="0" y="0" fill="#ffffff" font-size="9.7" text-anchor="middle" transform="translate(615 430.1) scale(0.97 1)" >3.5 m²</text>
<text x="0" y="0" fill="#ffffff" font-size="9.9" text-anchor="start" transform="translate(170 549.3) scale(0.95 1)" >TERRASS</text>
<text x="0" y="0" fill="#ffffff" font-size="9.7" text-anchor="start" transform="translate(170 560.4) scale(0.97 1)" >12.7 m²</text>
<text x="530.8" y="237.4" fill="#858585" font-size="9.6" text-anchor="middle" dominant-baseline="central" transform="rotate(-90 530.8 237.4)" >kapp</text>
<text x="531.5" y="405.8" fill="#858585" font-size="9.6" text-anchor="middle" dominant-baseline="central" transform="rotate(-90 531.5 405.8)" >kapp</text>
<text x="675.5" y="235" fill="#858585" font-size="9.6" text-anchor="middle" dominant-baseline="central" >garderoob</text>
<text x="609.5" y="335.5" fill="#858585" font-size="9.6" text-anchor="middle" dominant-baseline="central" >kapp/pink</text>
<text x="438.2" y="633.7" fill="#858585" font-size="9.6" text-anchor="middle" dominant-baseline="central" >köögimööbel</text>
<line x1="626.4" y1="205" x2="626.4" y2="252" stroke="#7c7c7c" stroke-width="1.1" />
<rect x="623.4" y="212.4" width="11.7" height="31" fill="#000" stroke="#ffffff" stroke-width="1.2"/>
<text x="629.3" y="227.9" fill="#ffffff" font-size="8.6" text-anchor="middle" dominant-baseline="central" transform="rotate(-90 629.3 227.9)" >el. kapp</text>
<line x1="782.8" y1="677" x2="784.6" y2="702" stroke="#ffffff" stroke-width="1.6" />
<line x1="788.7" y1="677" x2="791.7" y2="702" stroke="#ffffff" stroke-width="1.6" />
</svg>
</body></html>
